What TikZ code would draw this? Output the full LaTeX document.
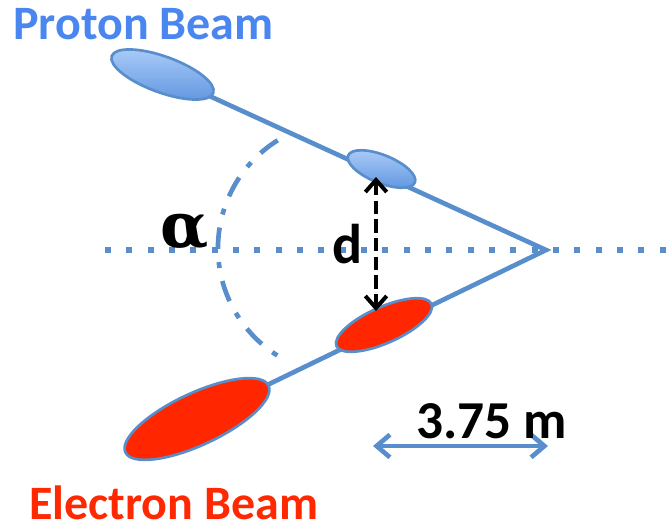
\documentclass[tikz,border=0pt]{standalone}
\usepackage{fontspec}
\setmainfont{Carlito}
\newfontfamily\greekfont{DejaVu Serif}
\usetikzlibrary{shapes.geometric,arrows.meta}
\definecolor{lineblue}{RGB}{88,142,204}
\definecolor{protonblue}{RGB}{74,134,240}
\definecolor{elecred}{RGB}{255,40,0}
\definecolor{ellred}{RGB}{255,38,0}
\definecolor{elltop}{RGB}{172,204,248}
\definecolor{ellbot}{RGB}{96,150,224}
\pgfdeclarelayer{background}
\pgfsetlayers{background,main}
\begin{document}
\begin{tikzpicture}[x=0.75pt,y=-0.75pt,
  beam/.style={line width=3.5pt, draw=lineblue},
  pbunch/.style={ellipse, draw=lineblue, line width=2pt, top color=elltop, bottom color=ellbot, inner sep=0pt},
  ebunch/.style={ellipse, draw=lineblue, line width=2pt, fill=ellred, inner sep=0pt},
  txt/.style={font=\bfseries, inner sep=0pt, anchor=base west},
  axisline/.style={draw=lineblue, line width=4.5pt, dash pattern=on 4.5pt off 11.5pt},
  anglearc/.style={draw=lineblue, line width=3.5pt, dash pattern=on 16pt off 10pt on 4.5pt off 10pt},
  darrow/.style={draw=black, line width=3pt, dash pattern=on 10pt off 4pt, {Straight Barb[length=9pt,width=16pt]}-{Straight Barb[length=9pt,width=16pt]}},
  marrow/.style={draw=lineblue, line width=3.5pt, {Straight Barb[length=10pt,width=17pt]}-{Straight Barb[length=10pt,width=17pt]}},
]
\useasboundingbox (0,0) rectangle (666,525);
\coordinate (apex) at (546,250);
\coordinate (axL) at (105,250);
\coordinate (axR) at (666,250);
\coordinate (arcS) at (277.7,140.3);
\coordinate (dTop) at (376,177);
\coordinate (dBot) at (376,311);
\coordinate (mL) at (373,446);
\coordinate (mR) at (548,446);

\node[pbunch, minimum width=81pt, minimum height=27pt, rotate=-20] (pb1) at (162.5,74.5) {};
\node[pbunch, minimum width=54pt, minimum height=21pt, rotate=-22] (pb2) at (381.5,169) {};
\node[ebunch, minimum width=78pt, minimum height=27pt, rotate=24] (eb2) at (384,325) {};
\node[ebunch, minimum width=118.5pt, minimum height=39pt, rotate=25] (eb1) at (197,419) {};

\begin{pgfonlayer}{background}
\draw[axisline] (axL) -- (axR);
\draw[beam] (pb1.center) -- (apex) -- (eb1.center);
\end{pgfonlayer}
\draw[anglearc] (arcS) arc[start angle=238, end angle=122, radius=127];

\draw[darrow] (dTop) -- (dBot);
\draw[marrow] (mL) -- (mR);

\node[txt, text=protonblue, font=\bfseries\fontsize{36}{36}\selectfont] (pt) at (13,39) {Proton Beam};
\node[txt, text=elecred, font=\bfseries\fontsize{36}{36}\selectfont] (et) at (29,519) {Electron Beam};
\node[txt, font=\greekfont\bfseries\fontsize{47}{47}\selectfont] (al) at (160,247) {α};
\node[txt, font=\bfseries\fontsize{42}{42}\selectfont] (dl) at (332,263) {d};
\node[txt, font=\bfseries\fontsize{40}{40}\selectfont] (ml) at (416,438) {3.75 m};
\end{tikzpicture}
\end{document}
